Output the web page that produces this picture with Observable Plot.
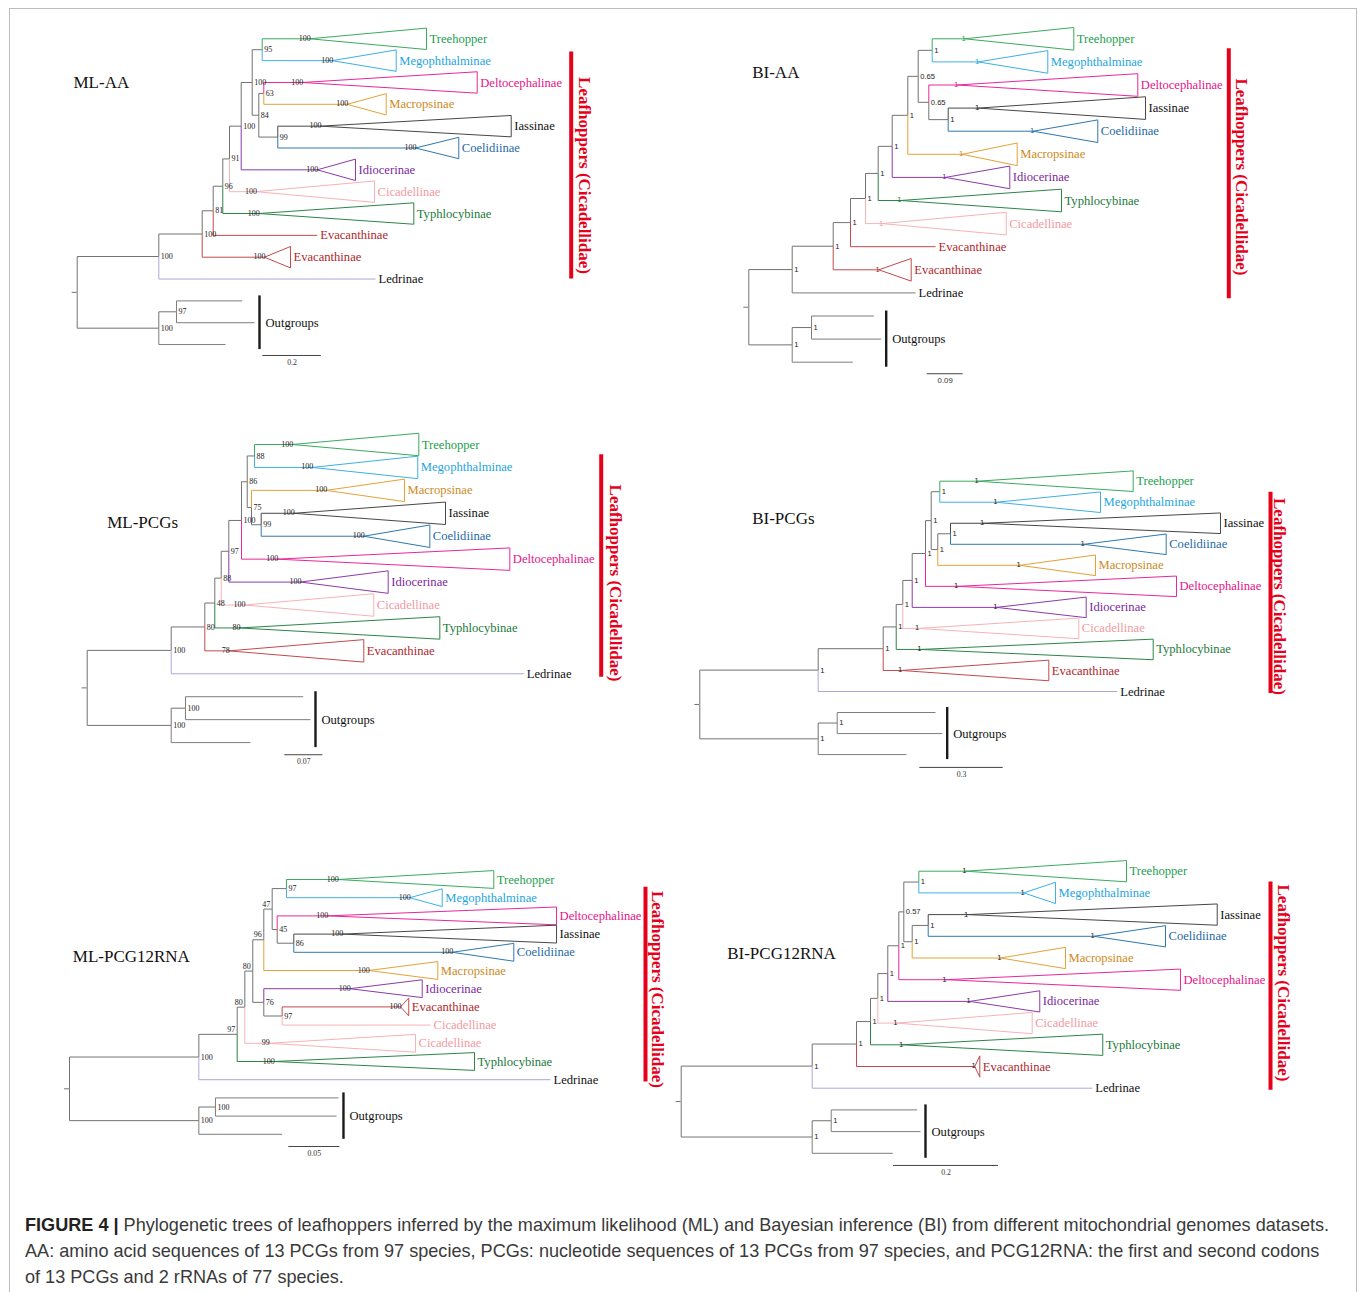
<!DOCTYPE html>
<html>
<head>
<meta charset="utf-8">
<script src="https://cdn.jsdelivr.net/npm/d3@7"></script>
<script src="https://cdn.jsdelivr.net/npm/@observablehq/plot@0.6"></script>
<style>
  body { margin: 0; background: #fff; }
  #fig { position: relative; width: 1358px; height: 1292px; overflow: hidden; background: #fff; }
  #frame { position: absolute; left: 9px; top: 8px; width: 1346px; height: 1300px; border: 1px solid #bdbdbd; }
  .panel { position: absolute; }
  .panel svg { overflow: visible; }
  #caption { position: absolute; left: 25px; top: 1212px; font-family: "Liberation Sans", Arial, sans-serif;
             font-size: 18.1px; line-height: 26px; color: #3a3a3a; white-space: nowrap; }
  #caption b { color: #222; }
</style>
</head>
<body>
<div id="fig">
  <div id="frame"></div>
  <div id="caption"><b>FIGURE 4 |</b> Phylogenetic trees of leafhoppers inferred by the maximum likelihood (ML) and Bayesian inference (BI) from different mitochondrial genomes datasets.<br>AA: amino acid sequences of 13 PCGs from 97 species, PCGs: nucleotide sequences of 13 PCGs from 97 species, and PCG12RNA: the first and second codons<br>of 13 PCGs and 2 rRNAs of 77 species.</div>
</div>
<script>
// ---------------- DATA ----------------
// Internal nodes: depth = distance from root (substitutions/site), support = node support
// Tips: row = vertical order, crown = depth of collapsed clade's node (null = single branch), depth = tip depth

const mlAA_nodes = [
  {id:"root", parent:null, depth:0, support:""},
  {id:"in", parent:"root", depth:0.2785, support:"100"},
  {id:"A", parent:"in", depth:0.4266, support:"100"},
  {id:"B", parent:"A", depth:0.4642, support:"81"},
  {id:"C", parent:"B", depth:0.4969, support:"96"},
  {id:"D", parent:"C", depth:0.5198, support:"91"},
  {id:"E", parent:"D", depth:0.5597, support:"100"},
  {id:"F", parent:"E", depth:0.5973, support:"100"},
  {id:"G", parent:"F", depth:0.6314, support:"95"},
  {id:"H", parent:"F", depth:0.6198, support:"84"},
  {id:"I", parent:"H", depth:0.6369, support:"63"},
  {id:"J", parent:"H", depth:0.6846, support:"99"},
  {id:"K", parent:"root", depth:0.2785, support:"100"},
  {id:"L", parent:"K", depth:0.3389, support:"97"}
];
const mlAA_tips = [
  {name:"Treehopper", parent:"G", row:0, crown:0.7939, depth:1.1922, support:"100"},
  {name:"Megophthalminae", parent:"G", row:1, crown:0.8703, depth:1.0887, support:"100"},
  {name:"Deltocephalinae", parent:"I", row:2, crown:0.7679, depth:1.3652, support:"100"},
  {name:"Macropsinae", parent:"I", row:3, crown:0.9215, depth:1.0546, support:"100"},
  {name:"Iassinae", parent:"J", row:4, crown:0.8304, depth:1.4812, support:"100"},
  {name:"Coelidiinae", parent:"J", row:5, crown:1.1546, depth:1.3024, support:"100"},
  {name:"Idiocerinae", parent:"E", row:6, crown:0.8191, depth:0.9498, support:"100"},
  {name:"Cicadellinae", parent:"D", row:7, crown:0.6102, depth:1.0147, support:"100"},
  {name:"Typhlocybinae", parent:"C", row:8, crown:0.6198, depth:1.1488, support:"100"},
  {name:"Evacanthinae", parent:"B", row:9, crown:null, depth:0.8191, support:""},
  {name:"Evacanthinae", parent:"A", row:10, crown:0.6392, depth:0.7280, support:"100"},
  {name:"Ledrinae", parent:"in", row:11, crown:null, depth:1.0181, support:""},
  {name:"", clade:"Outgroup", parent:"L", row:12, crown:null, depth:0.5631, support:""},
  {name:"", clade:"Outgroup", parent:"L", row:13, crown:null, depth:0.6051, support:""},
  {name:"", clade:"Outgroup", parent:"K", row:14, crown:null, depth:0.5061, support:""}
];

const biAA_nodes = [
  {id:"root", parent:null, depth:0, support:""},
  {id:"N1", parent:"root", depth:0.1085, support:"1"},
  {id:"N2", parent:"N1", depth:0.2110, support:"1"},
  {id:"N3", parent:"N2", depth:0.2543, support:"1"},
  {id:"N4", parent:"N3", depth:0.2918, support:"1"},
  {id:"N5", parent:"N4", depth:0.3235, support:"1"},
  {id:"N6", parent:"N5", depth:0.3585, support:"1"},
  {id:"N7", parent:"N6", depth:0.3975, support:"1"},
  {id:"N8", parent:"N7", depth:0.4235, support:"0.65"},
  {id:"N9", parent:"N8", depth:0.4585, support:"1"},
  {id:"N10", parent:"N8", depth:0.4500, support:"0.65"},
  {id:"N11", parent:"N10", depth:0.4985, support:"1"},
  {id:"O1", parent:"root", depth:0.1085, support:"1"},
  {id:"O2", parent:"O1", depth:0.1568, support:"1"}
];
const biAA_tips = [
  {name:"Treehopper", parent:"N9", row:0, crown:0.5400, depth:0.8125, support:"1"},
  {name:"Megophthalminae", parent:"N9", row:1, crown:0.5735, depth:0.7475, support:"1"},
  {name:"Deltocephalinae", parent:"N10", row:2, crown:0.5210, depth:0.9725, support:"1"},
  {name:"Iassinae", parent:"N11", row:3, crown:0.5735, depth:0.9918, support:"1"},
  {name:"Coelidiinae", parent:"N11", row:4, crown:0.7110, depth:0.8725, support:"1"},
  {name:"Macropsinae", parent:"N7", row:5, crown:0.5335, depth:0.6710, support:"1"},
  {name:"Idiocerinae", parent:"N6", row:6, crown:0.4918, depth:0.6525, support:"1"},
  {name:"Typhlocybinae", parent:"N5", row:7, crown:0.3793, depth:0.7818, support:"1"},
  {name:"Cicadellinae", parent:"N4", row:8, crown:0.3335, depth:0.6435, support:"1"},
  {name:"Evacanthinae", parent:"N3", row:9, crown:null, depth:0.4668, support:""},
  {name:"Evacanthinae", parent:"N2", row:10, crown:0.3250, depth:0.4060, support:"1"},
  {name:"Ledrinae", parent:"N1", row:11, crown:null, depth:0.4168, support:""},
  {name:"", clade:"Outgroup", parent:"O2", row:12, crown:null, depth:0.3125, support:""},
  {name:"", clade:"Outgroup", parent:"O2", row:13, crown:null, depth:0.3310, support:""},
  {name:"", clade:"Outgroup", parent:"O1", row:14, crown:null, depth:0.2600, support:""}
];

const mlPCG_nodes = [
  {id:"root", parent:null, depth:0, support:""},
  {id:"P1", parent:"root", depth:0.1547, support:"100"},
  {id:"P2", parent:"P1", depth:0.2166, support:"80"},
  {id:"P3", parent:"P2", depth:0.2350, support:"48"},
  {id:"P4", parent:"P3", depth:0.2468, support:"88"},
  {id:"P5", parent:"P4", depth:0.2608, support:"97"},
  {id:"P6", parent:"P5", depth:0.2842, support:"100"},
  {id:"P7", parent:"P6", depth:0.2947, support:"86"},
  {id:"P8", parent:"P7", depth:0.3081, support:"88"},
  {id:"P9", parent:"P7", depth:0.3026, support:"75"},
  {id:"P10", parent:"P9", depth:0.3204, support:"99"},
  {id:"Q1", parent:"root", depth:0.1547, support:"100"},
  {id:"Q2", parent:"Q1", depth:0.1810, support:"100"}
];
const mlPCG_tips = [
  {name:"Treehopper", parent:"P8", row:0, crown:0.3775, depth:0.6107, support:"100"},
  {name:"Megophthalminae", parent:"P8", row:1, crown:0.4144, depth:0.6088, support:"100"},
  {name:"Macropsinae", parent:"P9", row:2, crown:0.4401, depth:0.5843, support:"100"},
  {name:"Iassinae", parent:"P10", row:3, crown:0.3805, depth:0.6599, support:"100"},
  {name:"Coelidiinae", parent:"P10", row:4, crown:0.5094, depth:0.6310, support:"100"},
  {name:"Deltocephalinae", parent:"P6", row:5, crown:0.3499, depth:0.7783, support:"100"},
  {name:"Idiocerinae", parent:"P5", row:6, crown:0.3928, depth:0.5543, support:"100"},
  {name:"Cicadellinae", parent:"P4", row:7, crown:0.2897, depth:0.5278, support:"100"},
  {name:"Typhlocybinae", parent:"P3", row:8, crown:0.2805, depth:0.6494, support:"80"},
  {name:"Evacanthinae", parent:"P2", row:9, crown:0.2608, depth:0.5094, support:"78"},
  {name:"Ledrinae", parent:"P1", row:10, crown:null, depth:0.8040, support:""},
  {name:"", clade:"Outgroup", parent:"Q2", row:11, crown:null, depth:0.3978, support:""},
  {name:"", clade:"Outgroup", parent:"Q2", row:12, crown:null, depth:0.4112, support:""},
  {name:"", clade:"Outgroup", parent:"Q1", row:13, crown:null, depth:0.3007, support:""}
];

const biPCG_nodes = [
  {id:"root", parent:null, depth:0, support:""},
  {id:"R1", parent:"root", depth:0.4259, support:"1"},
  {id:"R2", parent:"R1", depth:0.6597, support:"1"},
  {id:"R3", parent:"R2", depth:0.7065, support:"1"},
  {id:"R4", parent:"R3", depth:0.7302, support:"1"},
  {id:"R5", parent:"R4", depth:0.7640, support:"1"},
  {id:"R6", parent:"R5", depth:0.8119, support:"1"},
  {id:"R7", parent:"R6", depth:0.8324, support:"1"},
  {id:"R8", parent:"R7", depth:0.8633, support:"1"},
  {id:"R9", parent:"R7", depth:0.8561, support:"1"},
  {id:"R10", parent:"R9", depth:0.9018, support:"1"},
  {id:"S1", parent:"root", depth:0.4259, support:"1"},
  {id:"S2", parent:"S1", depth:0.4942, support:"1"}
];
const biPCG_tips = [
  {name:"Treehopper", parent:"R8", row:0, crown:1.0000, depth:1.5590, support:"1"},
  {name:"Megophthalminae", parent:"R8", row:1, crown:1.0673, depth:1.4414, support:"1"},
  {name:"Iassinae", parent:"R10", row:2, crown:1.0194, depth:1.8730, support:"1"},
  {name:"Coelidiinae", parent:"R10", row:3, crown:1.3813, depth:1.6777, support:"1"},
  {name:"Macropsinae", parent:"R9", row:4, crown:1.1511, depth:1.4234, support:"1"},
  {name:"Deltocephalinae", parent:"R6", row:5, crown:0.9259, depth:1.7147, support:"1"},
  {name:"Idiocerinae", parent:"R5", row:6, crown:1.0673, depth:1.3899, support:"1"},
  {name:"Cicadellinae", parent:"R4", row:7, crown:0.7856, depth:1.3633, support:"1"},
  {name:"Typhlocybinae", parent:"R3", row:8, crown:0.7939, depth:1.6309, support:"1"},
  {name:"Evacanthinae", parent:"R2", row:9, crown:0.7245, depth:1.2554, support:"1"},
  {name:"Ledrinae", parent:"R1", row:10, crown:null, depth:1.5014, support:""},
  {name:"", clade:"Outgroup", parent:"S2", row:11, crown:null, depth:0.8478, support:""},
  {name:"", clade:"Outgroup", parent:"S2", row:12, crown:null, depth:0.8719, support:""},
  {name:"", clade:"Outgroup", parent:"S1", row:13, crown:null, depth:0.7435, support:""}
];

const mlP12_nodes = [
  {id:"root", parent:null, depth:0, support:""},
  {id:"T1", parent:"root", depth:0.1268, support:"100"},
  {id:"T2", parent:"T1", depth:0.1644, support:"97"},
  {id:"T3", parent:"T2", depth:0.1719, support:"80"},
  {id:"T4", parent:"T3", depth:0.1797, support:"80"},
  {id:"T5", parent:"T4", depth:0.1905, support:"96"},
  {id:"T7", parent:"T5", depth:0.1987, support:"47"},
  {id:"T8", parent:"T7", depth:0.2127, support:"97"},
  {id:"T9", parent:"T7", depth:0.2036, support:"45"},
  {id:"T10", parent:"T9", depth:0.2199, support:"86"},
  {id:"T6", parent:"T4", depth:0.1905, support:"76"},
  {id:"T11", parent:"T6", depth:0.2085, support:"97"},
  {id:"U1", parent:"root", depth:0.1268, support:"100"},
  {id:"U2", parent:"U1", depth:0.1431, support:"100"}
];
const mlP12_tips = [
  {name:"Treehopper", parent:"T8", row:0, crown:0.2630, depth:0.4160, support:"100"},
  {name:"Megophthalminae", parent:"T8", row:1, crown:0.3336, depth:0.3654, support:"100"},
  {name:"Deltocephalinae", parent:"T9", row:2, crown:0.2526, depth:0.4775, support:"100"},
  {name:"Iassinae", parent:"T10", row:3, crown:0.2673, depth:0.4775, support:"100"},
  {name:"Coelidiinae", parent:"T10", row:4, crown:0.3752, depth:0.4356, support:"100"},
  {name:"Macropsinae", parent:"T5", row:5, crown:0.2934, depth:0.3611, support:"100"},
  {name:"Idiocerinae", parent:"T6", row:6, crown:0.2748, depth:0.3458, support:"100"},
  {name:"Evacanthinae", parent:"T11", row:7, crown:0.3245, depth:0.3326, support:"100"},
  {name:"Cicadellinae", parent:"T11", row:8, crown:null, depth:0.3539, support:""},
  {name:"Cicadellinae", parent:"T3", row:9, crown:0.1954, depth:0.3392, support:"99"},
  {name:"Typhlocybinae", parent:"T2", row:10, crown:0.2003, depth:0.3971, support:"100"},
  {name:"Ledrinae", parent:"T1", row:11, crown:null, depth:0.4716, support:""},
  {name:"", clade:"Outgroup", parent:"U2", row:12, crown:null, depth:0.2637, support:""},
  {name:"", clade:"Outgroup", parent:"U2", row:13, crown:null, depth:0.2618, support:""},
  {name:"", clade:"Outgroup", parent:"U1", row:14, crown:null, depth:0.2085, support:""}
];

const biP12_nodes = [
  {id:"root", parent:null, depth:0, support:""},
  {id:"V1", parent:"root", depth:0.2495, support:"1"},
  {id:"V2", parent:"V1", depth:0.3339, support:"1"},
  {id:"V3", parent:"V2", depth:0.3606, support:"1"},
  {id:"V4", parent:"V3", depth:0.3745, support:"1"},
  {id:"V5", parent:"V4", depth:0.3935, support:"1"},
  {id:"V6", parent:"V5", depth:0.4145, support:"1"},
  {id:"V7", parent:"V6", depth:0.4240, support:"0.57"},
  {id:"V8", parent:"V7", depth:0.4526, support:"1"},
  {id:"V9", parent:"V7", depth:0.4400, support:"1"},
  {id:"V10", parent:"V9", depth:0.4705, support:"1"},
  {id:"W1", parent:"root", depth:0.2495, support:"1"},
  {id:"W2", parent:"W1", depth:0.2857, support:"1"}
];
const biP12_tips = [
  {name:"Treehopper", parent:"V8", row:0, crown:0.5415, depth:0.8482, support:"1"},
  {name:"Megophthalminae", parent:"V8", row:1, crown:0.6526, depth:0.7130, support:"1"},
  {name:"Iassinae", parent:"V10", row:2, crown:0.5448, depth:1.0210, support:"1"},
  {name:"Coelidiinae", parent:"V10", row:3, crown:0.7859, depth:0.9225, support:"1"},
  {name:"Macropsinae", parent:"V9", row:4, crown:0.6082, depth:0.7320, support:"1"},
  {name:"Deltocephalinae", parent:"V6", row:5, crown:0.5034, depth:0.9510, support:"1"},
  {name:"Idiocerinae", parent:"V5", row:6, crown:0.5497, depth:0.6830, support:"1"},
  {name:"Cicadellinae", parent:"V4", row:7, crown:0.4101, depth:0.6686, support:"1"},
  {name:"Typhlocybinae", parent:"V3", row:8, crown:0.4210, depth:0.8030, support:"1"},
  {name:"Evacanthinae", parent:"V2", row:9, crown:0.5592, depth:0.5688, support:"1"},
  {name:"Ledrinae", parent:"V1", row:10, crown:null, depth:0.7829, support:""},
  {name:"", clade:"Outgroup", parent:"W2", row:11, crown:null, depth:0.4495, support:""},
  {name:"", clade:"Outgroup", parent:"W2", row:12, crown:null, depth:0.4558, support:""},
  {name:"", clade:"Outgroup", parent:"W1", row:13, crown:null, depth:0.4030, support:""}
];

const treeTitles = ["ML-AA", "BI-AA", "ML-PCGs", "BI-PCGs", "ML-PCG12RNA", "BI-PCG12RNA"];
const scaleBarValues = [0.2, 0.09, 0.07, 0.3, 0.05, 0.2];
const scaleBarLabels = ["0.2", "0.09", "0.07", "0.3", "0.05", "0.2"];
const groupLabel = "Leafhoppers (Cicadellidae)";
const outgroupLabel = "Outgroups";

// ---------------- STYLE / LAYOUT ----------------
const style = {
  internal: "#727272",
  line: {Treehopper:"#3aaa5e", Megophthalminae:"#3db0e4", Deltocephalinae:"#e8279a", Macropsinae:"#e3a236",
         Iassinae:"#474747", Coelidiinae:"#2d78ae", Idiocerinae:"#8b3aa9", Cicadellinae:"#f6b3b7",
         Typhlocybinae:"#2c8448", Evacanthinae:"#c04a4e", Ledrinae:"#aca7da", Outgroup:"#7d7d7d"},
  text: {Treehopper:"#22a04f", Megophthalminae:"#1ea6e0", Deltocephalinae:"#e3148a", Macropsinae:"#cd8a1c",
         Iassinae:"#111", Coelidiinae:"#1f6aa5", Idiocerinae:"#7b2a9d", Cicadellinae:"#f39aa1",
         Typhlocybinae:"#1c7a3b", Evacanthinae:"#b0282d", Ledrinae:"#111", Outgroup:"#111"},
  red: "#e6001a",
  serif: "'Liberation Serif','Times New Roman',serif",
  sans: "'Liberation Sans',Arial,sans-serif"
};

const layouts = [
  {left:15, top:10, width:650, height:380, x0:61.7, ppu:293, y0:28.3, step:21.84,
   titleX:-0.0126, titleRow:1.99, scaleX:0.6334, scaleRow:14.5, bracketX:1.686, bracket:[0.61, 11.0], bracketTextRow:6.26, bracketDx:13,
   supFont:"serif", scaleFont:"serif", apexColored:false},
  {left:680, top:10, width:670, height:380, x0:68.3, ppu:400, y0:28.3, step:23.1,
   titleX:0.0085, titleRow:1.45, scaleX:0.446, scaleRow:14.5, bracketX:1.2, bracket:[0.43, 11.25], bracketTextRow:5.98, bracketDx:13,
   supFont:"sans", scaleFont:"sans", apexColored:true, lineOverride:{Ledrinae:"#7a7a7a"}},
  {left:15, top:410, width:650, height:370, x0:71.7, ppu:543, y0:34, step:22.93,
   titleX:0.0368, titleRow:3.39, scaleX:0.3639, scaleRow:13.53, bracketX:0.9466, bracket:[0.45, 10.15], bracketTextRow:6.04, bracketDx:14,
   supFont:"serif", scaleFont:"serif", apexColored:false},
  {left:680, top:450, width:670, height:340, x0:19.3, ppu:278, y0:30.7, step:21.03,
   titleX:0.1885, titleRow:1.79, scaleX:0.7914, scaleRow:13.61, bracketX:2.053, bracket:[0.52, 10.1], bracketTextRow:5.48, bracketDx:9,
   supFont:"sans", scaleFont:"serif", apexColored:false},
  {left:15, top:850, width:670, height:320, x0:54, ppu:1020, y0:29, step:18.2,
   titleX:0.0032, titleRow:4.23, scaleX:0.215, scaleRow:14.67, bracketX:0.5647, bracket:[0.42, 11.13], bracketTextRow:6.04, bracketDx:12,
   supFont:"serif", scaleFont:"serif", apexColored:false, labelsAbove:["T2","T3","T4","T5","T7"]},
  {left:670, top:850, width:680, height:340, x0:10.7, ppu:525, y0:20.7, step:21.7,
   titleX:0.0876, titleRow:3.79, scaleX:0.4044, scaleRow:13.56, bracketX:1.1225, bracket:[0.5, 10.1], bracketTextRow:5.15, bracketDx:13,
   supFont:"sans", scaleFont:"serif", apexColored:false}
];

const trees = [
  [mlAA_nodes, mlAA_tips], [biAA_nodes, biAA_tips], [mlPCG_nodes, mlPCG_tips],
  [biPCG_nodes, biPCG_tips], [mlP12_nodes, mlP12_tips], [biP12_nodes, biP12_tips]
];

// ---------------- DRAW ----------------
function drawTree(nodes, tips, L, title, scaleValue, scaleLabel) {
  const byId = new Map(nodes.map(n => [n.id, {...n, kids: []}]));
  const T = tips.map(t => ({...t, y: t.row, clade: t.clade || t.name}));
  for (const n of byId.values()) if (n.parent) byId.get(n.parent).kids.push(n);
  for (const t of T) byId.get(t.parent).kids.push(t);
  const N = [...byId.values()];
  const root = N.find(n => !n.parent);
  const setY = n => {
    if (!n.kids) return n.y;
    const ys = n.kids.map(setY);
    n.y = (Math.min(...ys) + Math.max(...ys)) / 2;
    return n.y;
  };
  setY(root);

  const lineOf = c => (L.lineOverride && L.lineOverride[c]) || style.line[c];
  const branches = [
    ...N.filter(n => n.parent).map(n => {
      const p = byId.get(n.parent);
      return {x1: p.depth, y1: p.y, x2: n.depth, y2: n.y, c: style.internal};
    }),
    ...T.map(t => {
      const p = byId.get(t.parent);
      return {x1: p.depth, y1: p.y, x2: t.crown ?? t.depth, y2: t.y, c: lineOf(t.clade)};
    })
  ];
  const H = 0.49;
  const tri = T.filter(t => t.crown != null).flatMap(t => {
    const c = lineOf(t.clade);
    return [
      {k: t.row, x: t.crown, y: t.y, c}, {k: t.row, x: t.depth, y: t.y - H, c},
      {k: t.row, x: t.depth, y: t.y + H, c}, {k: t.row, x: t.crown, y: t.y, c}
    ];
  });
  const og = T.filter(t => t.clade === "Outgroup");
  const ogInfo = {x: Math.max(...og.map(t => t.depth)), y1: Math.min(...og.map(t => t.row)), y2: Math.max(...og.map(t => t.row))};
  ogInfo.ym = (ogInfo.y1 + ogInfo.y2) / 2;

  const above = new Set(L.labelsAbove || []);
  const supNodes = N.filter(n => n.support && !above.has(n.id));
  const supAbove = N.filter(n => n.support && above.has(n.id));
  const apex = T.filter(t => t.crown != null && t.support);
  const named = T.filter(t => t.name);
  const supFamily = L.supFont === "sans" ? style.sans : style.serif;
  const supSize = L.supFont === "sans" ? 7.6 : 8;

  const sb = [{x1: L.scaleX, x2: L.scaleX + scaleValue, y: L.scaleRow, label: scaleLabel}];
  const br = [{x: L.bracketX, y1: L.bracket[0], y2: L.bracket[1], ym: L.bracketTextRow}];

  return Plot.plot({
    width: L.width, height: L.height, margin: 0,
    x: {domain: [0, 1], range: [L.x0, L.x0 + L.ppu], axis: null},
    y: {domain: [0, 1], range: [L.y0, L.y0 + L.step], axis: null},
    color: {type: "identity"},
    style: "overflow: visible; background: transparent;",
    marks: [
      Plot.ruleY([root], {y: "y", x1: 0, x2: 0, insetLeft: -5, stroke: style.internal, strokeWidth: 1}),
      Plot.link(branches, {x1: "x1", y1: "y1", x2: "x2", y2: "y2", curve: "step-before", stroke: "c", strokeWidth: 1}),
      Plot.line(tri, {x: "x", y: "y", z: "k", stroke: "c", strokeWidth: 1, curve: "linear"}),
      Plot.text(supNodes, {x: "depth", y: "y", text: "support", textAnchor: "start", dx: 2,
        fontSize: supSize, fontFamily: supFamily, fill: "#222"}),
      Plot.text(supAbove, {x: "depth", y: "y", text: "support", textAnchor: "end", dx: -2, dy: -5,
        fontSize: supSize, fontFamily: supFamily, fill: "#222"}),
      Plot.text(apex, {x: "crown", y: "y", text: "support", textAnchor: "end", dx: 1, dy: -0.5,
        fontSize: supSize, fontFamily: supFamily,
        fill: d => L.apexColored ? style.text[d.clade] : "#222"}),
      Plot.text(named, {x: "depth", y: "y", text: "name", textAnchor: "start", dx: 3,
        fontSize: 12.6, fontFamily: style.serif, fill: d => style.text[d.clade]}),
      Plot.ruleX([ogInfo], {x: "x", y1: "y1", y2: "y2", dx: 5, insetTop: -5, insetBottom: -5, stroke: "#1a1a1a", strokeWidth: 2.4}),
      Plot.text([ogInfo], {x: "x", y: "ym", text: () => outgroupLabel, textAnchor: "start", dx: 11,
        fontSize: 12.6, fontFamily: style.serif, fill: "#111"}),
      Plot.ruleY(sb, {x1: "x1", x2: "x2", y: "y", stroke: "#444", strokeWidth: 1}),
      Plot.text(sb, {x: d => (d.x1 + d.x2) / 2, y: "y", text: "label", dy: 7, fontSize: 7.8,
        fontFamily: L.scaleFont === "sans" ? style.sans : style.serif, fill: "#333"}),
      Plot.ruleX(br, {x: "x", y1: "y1", y2: "y2", stroke: style.red, strokeWidth: 4}),
      Plot.text(br, {x: "x", y: "ym", text: () => groupLabel, rotate: 90, dx: L.bracketDx,
        fontSize: 17, fontWeight: "bold", fontFamily: style.serif, fill: style.red}),
      Plot.text([title], {x: () => L.titleX, y: () => L.titleRow, text: d => d, textAnchor: "start",
        fontSize: 17, fontFamily: style.serif, fill: "#111"})
    ]
  });
}

const fig = document.getElementById("fig");
trees.forEach(([nodes, tips], i) => {
  const L = layouts[i];
  const div = document.createElement("div");
  div.className = "panel";
  div.style.left = L.left + "px";
  div.style.top = L.top + "px";
  div.style.width = L.width + "px";
  div.style.height = L.height + "px";
  div.appendChild(drawTree(nodes, tips, L, treeTitles[i], scaleBarValues[i], scaleBarLabels[i]));
  fig.appendChild(div);
});
</script>
</body>
</html>
